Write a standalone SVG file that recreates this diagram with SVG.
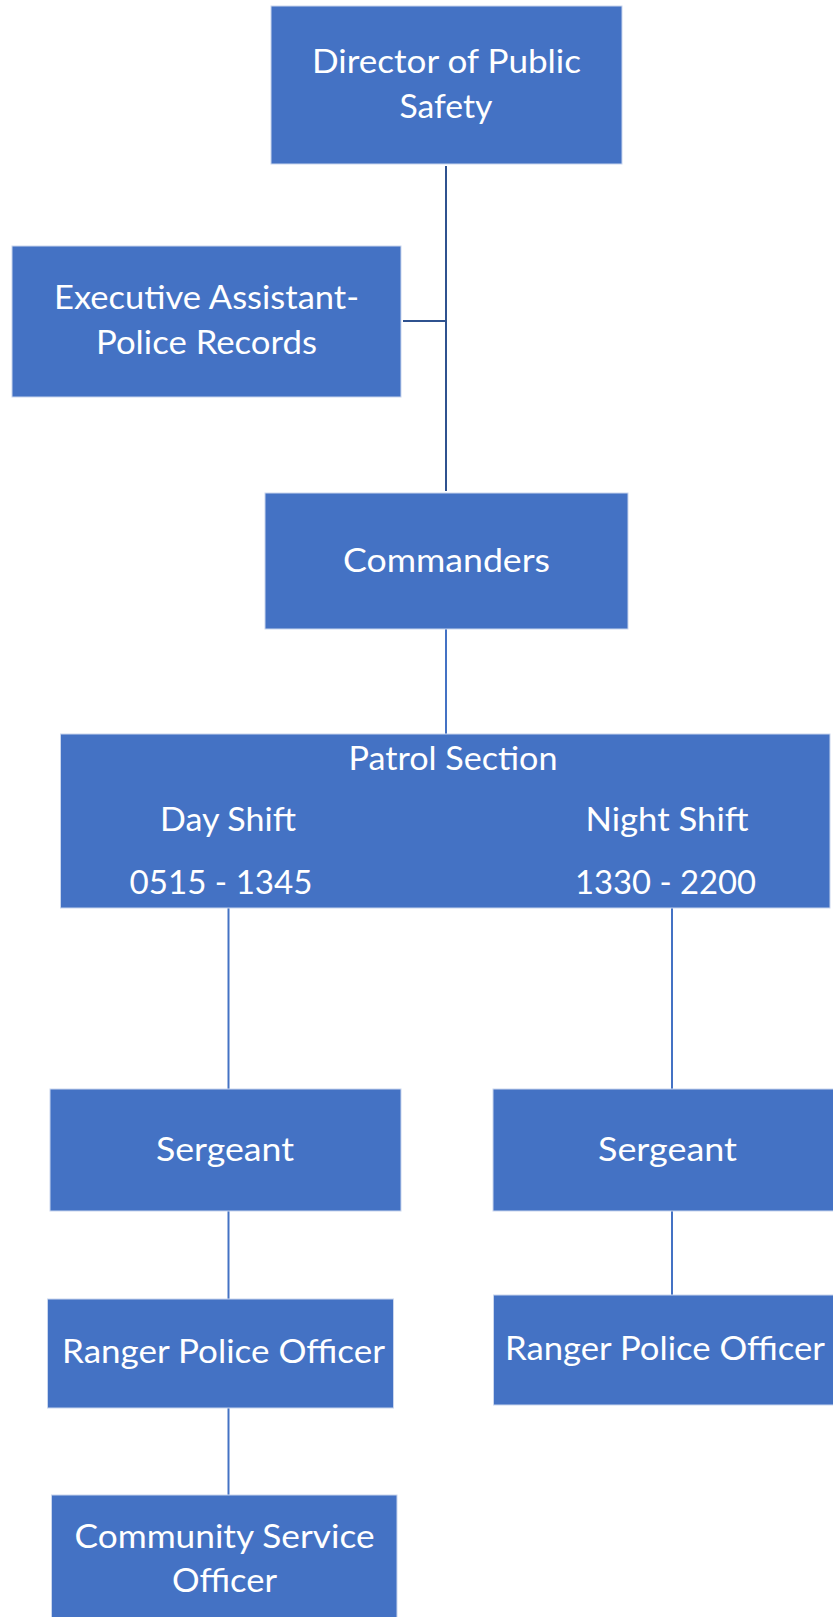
<svg xmlns="http://www.w3.org/2000/svg" width="833" height="1617" viewBox="0 0 833 1617">
<style>
.box{fill:#4472C4;stroke:#c9d6ee;stroke-width:1}
.t{font-family:Lato,"Open Sans","Liberation Sans",sans-serif;font-size:33px;fill:#ffffff;text-anchor:middle}
.ln{stroke:#4472C4;stroke-width:2;fill:none}
.lnd{stroke:#2F528F;stroke-width:2;fill:none}
</style>
<rect width="833" height="1617" fill="#ffffff"/>
<g id="connectors">
<line class="lnd" x1="446" y1="166" x2="446" y2="491"/>
<line class="lnd" x1="403" y1="321" x2="446" y2="321"/>
<line class="ln" x1="446" y1="629" x2="446" y2="734"/>
<line class="ln" x1="228.5" y1="908" x2="228.5" y2="1089"/>
<line class="ln" x1="672" y1="908" x2="672" y2="1089"/>
<line class="ln" x1="228.5" y1="1211" x2="228.5" y2="1299"/>
<line class="ln" x1="672" y1="1211" x2="672" y2="1295"/>
<line class="ln" x1="228.5" y1="1408" x2="228.5" y2="1495"/>
</g>
<g id="director">
<rect class="box" x="271" y="6" width="351" height="158"/>
<text class="t" x="446.5" y="73" textLength="269" lengthAdjust="spacingAndGlyphs">Director of Public</text>
<text class="t" x="446" y="117.5" textLength="93" lengthAdjust="spacingAndGlyphs">Safety</text>
</g>
<g id="exec">
<rect class="box" x="12" y="246" width="389" height="151"/>
<text class="t" x="206.5" y="309" textLength="305" lengthAdjust="spacingAndGlyphs">Executive Assistant-</text>
<text class="t" x="206.5" y="354" textLength="221" lengthAdjust="spacingAndGlyphs">Police Records</text>
</g>
<g id="commanders">
<rect class="box" x="265" y="493" width="363" height="136"/>
<text class="t" x="446.5" y="571.5" textLength="207" lengthAdjust="spacingAndGlyphs">Commanders</text>
</g>
<g id="patrol">
<rect class="box" x="60.5" y="734" width="769.5" height="174"/>
<text class="t" x="453" y="770" textLength="209" lengthAdjust="spacingAndGlyphs">Patrol Section</text>
<text class="t" x="228" y="831" textLength="136" lengthAdjust="spacingAndGlyphs">Day Shift</text>
<text class="t" x="221" y="894" textLength="183" lengthAdjust="spacingAndGlyphs">0515 - 1345</text>
<text class="t" x="667" y="831" textLength="163" lengthAdjust="spacingAndGlyphs">Night Shift</text>
<text class="t" x="665.5" y="894" textLength="181" lengthAdjust="spacingAndGlyphs">1330 - 2200</text>
</g>
<g id="sergeant-day">
<rect class="box" x="50" y="1089" width="351" height="122"/>
<text class="t" x="225" y="1161" textLength="138" lengthAdjust="spacingAndGlyphs">Sergeant</text>
</g>
<g id="sergeant-night">
<rect class="box" x="493" y="1089" width="345" height="122"/>
<text class="t" x="667.5" y="1161" textLength="139" lengthAdjust="spacingAndGlyphs">Sergeant</text>
</g>
<g id="ranger-day">
<rect class="box" x="47.5" y="1299" width="346" height="109"/>
<text class="t" x="223.5" y="1363" textLength="323" lengthAdjust="spacingAndGlyphs">Ranger Police Officer</text>
</g>
<g id="ranger-night">
<rect class="box" x="493.5" y="1295" width="345" height="110"/>
<text class="t" x="665" y="1360" textLength="320" lengthAdjust="spacingAndGlyphs">Ranger Police Officer</text>
</g>
<g id="community">
<rect class="box" x="51.5" y="1495" width="345.5" height="130"/>
<text class="t" x="224.5" y="1547.5" textLength="300" lengthAdjust="spacingAndGlyphs">Community Service</text>
<text class="t" x="224.5" y="1592" textLength="105" lengthAdjust="spacingAndGlyphs">Officer</text>
</g>
</svg>
